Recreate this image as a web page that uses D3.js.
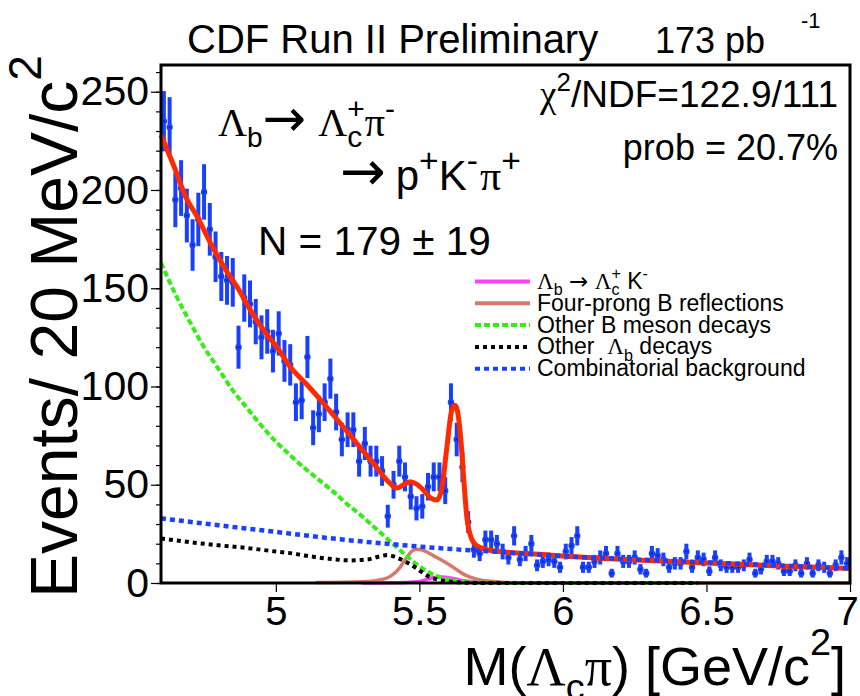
<!DOCTYPE html>
<html>
<head>
<meta charset="utf-8">
<script src="https://cdnjs.cloudflare.com/ajax/libs/d3/7.8.5/d3.min.js"></script>
<style>
body { margin: 0; background: #fff; }
svg { font-family: "Liberation Sans", Arial, sans-serif; }
</style>
</head>
<body>
<svg id="chart" width="860" height="696"></svg>
<script>
// Binned data: 20 MeV bins starting at 4.60 GeV
var binLow = 4.6, binWidth = 0.02;
var counts = [235, 232, 195, 201, 187, 172, 185, 199, 180, 166,
	156, 154, 153, 120, 145, 142, 133, 125, 128, 118,
	127, 113, 111, 92, 93, 115, 79, 86, 92, 104,
	87, 73, 78, 78, 62, 71, 62, 62, 57, 34,
	50, 62, 54, 44, 38, 39, 49, 54, 54, 47,
	92, 73, 59, 31, 17, 15, 22, 22, 20, 16,
	13, 24, 12, 15, 20, 9, 11, 12, 11, 8,
	16, 19, 24, 8, 8, 11, 13, 15, 5, 15,
	11, 11, 13, 7, 5, 15, 14, 12, 8, 10,
	10, 16, 8, 13, 12, 6, 13, 9, 8, 8,
	8, 9, 12, 5, 7, 11, 11, 10, 6, 6,
	9, 5, 10, 5, 9, 8, 5, 9, 13, 10];

// Fit curves
var totalMass = [4.60, 4.648, 4.683, 4.729, 4.776, 4.822, 4.868, 4.915, 4.961, 5.007, 5.05, 5.108, 5.166, 5.224, 5.282, 5.34, 5.398, 5.421, 5.45, 5.468, 5.49, 5.514, 5.537, 5.561, 5.578, 5.595, 5.613, 5.624, 5.632, 5.645, 5.655, 5.665, 5.682, 5.70, 5.734, 5.78, 5.84, 5.90, 5.955, 6.013, 6.13, 6.30, 6.52, 6.75, 7.0];
var totalFit = [228, 211, 197.5, 185.6, 172, 160.2, 150, 138, 128, 119.4, 110, 101, 91.4, 81.3, 71.1, 60.9, 50.7, 48.3, 50.5, 51.5, 50.3, 47.3, 43.5, 42.2, 48, 68, 88, 90.5, 88, 72, 52, 34, 22.5, 19, 17, 16, 15.3, 14.8, 14.2, 13.6, 12.6, 11.4, 10, 8.7, 7.4];

var lbKMass = [5.30, 5.45, 5.50, 5.53, 5.55, 5.58, 5.61, 5.64, 5.67, 5.70, 5.75, 6.40];
var lbK = [0, 0.3, 0.8, 2, 2.8, 3, 2.5, 1.6, 0.9, 0.4, 0.1, 0];

var reflMass = [5.14, 5.30, 5.36, 5.40, 5.43, 5.456, 5.475, 5.49, 5.51, 5.526, 5.55, 5.583, 5.62, 5.66, 5.70, 5.75, 5.80, 5.90, 7.0];
var refl = [0.2, 0.6, 1.5, 3.5, 7.5, 13, 16.3, 17.2, 16.8, 15.8, 13.8, 11.2, 7.8, 4, 2, 0.9, 0.3, 0.1, 0];

var bMesonMass = [4.60, 4.65, 4.70, 4.75, 4.80, 4.85, 4.90, 4.95, 5.00, 5.05, 5.10, 5.15, 5.20, 5.25, 5.30, 5.35, 5.40, 5.45, 5.50, 5.55, 5.60, 5.65, 5.70, 5.80, 6.47];
var bMeson = [163, 147, 133, 120, 109, 98, 89, 80, 72, 65, 58.5, 52.5, 46.5, 40, 34, 27.5, 21, 14.5, 8.5, 4.2, 1.8, 0.8, 0.3, 0, 0];

var otherLbMass = [4.60, 4.70, 4.80, 4.90, 5.00, 5.06, 5.10, 5.17, 5.26, 5.32, 5.36, 5.39, 5.42, 5.45, 5.49, 5.526, 5.57, 5.63, 5.70, 6.47];
var otherLb = [22.7, 20.8, 19.2, 17.8, 16, 15, 14, 12.6, 11.5, 12, 13.5, 14.2, 13, 11, 7.5, 3.8, 1.5, 0.4, 0, 0];

var combMass = [4.6, 4.8, 5.0, 5.2, 5.4, 5.6, 5.8, 6.0, 6.2, 6.4, 6.6, 6.8, 7.0];
var comb = [32.9, 29.4, 26, 22.6, 19.8, 17.4, 15.6, 13.6, 12.3, 11.1, 9.9, 8.6, 7.4];

var yMajor = [0, 50, 100, 150, 200, 250];
var xMajor = [5, 5.5, 6, 6.5, 7];

var legendItems = [
	{ key: 'lbk', color: '#ff40ff', dash: null },
	{ key: 'refl', color: '#d6786c', dash: null },
	{ key: 'bmes', color: '#33ee11', dash: '6,3' },
	{ key: 'olb', color: '#000000', dash: '4,4' },
	{ key: 'comb', color: '#1a40ff', dash: '5,4' }
];

var sans = '"Liberation Sans", Arial, sans-serif';
var serif = '"Liberation Serif", "Times New Roman", serif';
var arrowFont = '"DejaVu Sans", sans-serif';

var svg = d3.select('#chart');
// note: "top" is taken by window.top, so use other names
var plotL = 161, plotR = 850, plotT = 65, plotB = 583;

var x = d3.scaleLinear().domain([4.6, 7.0]).range([plotL, plotR]);
var y = d3.scaleLinear().domain([0, 263.6]).range([plotB, plotT]);

// Helper: text with sub/superscripts laid out piece by piece
function richText(parent, px, py, parts, size, anchor) {
	var g = parent.append('g');
	var cx = 0;
	parts.forEach(function(p) {
		if (p.sub !== undefined || p.sup !== undefined) {
			var w = 0;
			var ss = size * (p.small || 0.7);
			if (p.sub !== undefined) {
				var ts = g.append('text').attr('x', cx).attr('y', size * 0.28)
					.style('font-size', ss + 'px').style('font-family', sans).text(p.sub);
				w = Math.max(w, ts.node().getComputedTextLength());
			}
			if (p.sup !== undefined) {
				var tp = g.append('text').attr('x', cx).attr('y', -size * (p.supUp || 0.42))
					.style('font-size', ss + 'px').style('font-family', sans).text(p.sup);
				w = Math.max(w, tp.node().getComputedTextLength());
			}
			cx += w + (p.pad || 0);
		} else {
			var fam = p.serif ? serif : (p.arrow ? arrowFont : sans);
			var fs = size * (p.scale || 1);
			var t = g.append('text').attr('x', cx).attr('y', 0)
				.style('font-size', fs + 'px').style('font-family', fam)
				.attr('xml:space', 'preserve').text(p.t);
			cx += t.node().getComputedTextLength() + (p.pad || 0);
		}
	});
	var ox = px;
	if (anchor === 'end') ox = px - cx;
	if (anchor === 'middle') ox = px - cx / 2;
	g.attr('transform', 'translate(' + ox + ',' + py + ')');
	return g;
}

// Axes
var yMinor = svg.append('g').attr('transform', 'translate(' + plotL + ',0)')
	.call(d3.axisLeft(y).tickValues(d3.range(0, 261, 10)).tickSize(5).tickFormat(''));
yMinor.select('.domain').remove();
yMinor.selectAll('line').attr('stroke', '#000').attr('stroke-width', 1.2);

var yAxis = svg.append('g').attr('transform', 'translate(' + plotL + ',0)')
	.call(d3.axisLeft(y).tickValues(yMajor).tickSize(10).tickPadding(2));
yAxis.select('.domain').remove();
yAxis.selectAll('line').attr('stroke', '#000').attr('stroke-width', 1.2);
yAxis.selectAll('text').style('font-size', '41px').style('font-family', sans).attr('fill', '#000');

var xAxis = svg.append('g').attr('transform', 'translate(0,' + plotB + ')')
	.call(d3.axisBottom(x).tickValues(xMajor).tickSize(9).tickPadding(5).tickFormat(function(d) { return String(d); }));
xAxis.select('.domain').remove();
xAxis.selectAll('line').attr('stroke', '#000').attr('stroke-width', 1.2);
xAxis.selectAll('text').style('font-size', '40px').style('font-family', sans).attr('fill', '#000');
// last label sits against the page edge
xAxis.selectAll('text').filter(function(d) { return d === 7; }).attr('dx', -3);

// Data points with sqrt(N) error bars
var plot = svg.append('g');
var pts = counts.map(function(c, i) { return { m: binLow + binWidth * (i + 0.5), n: c }; });
var blue = '#1a40ff';

plot.selectAll('line.err').data(pts).enter().append('line')
	.attr('class', 'err')
	.attr('x1', function(d) { return x(d.m); })
	.attr('x2', function(d) { return x(d.m); })
	.attr('y1', function(d) { return y(d.n + Math.sqrt(d.n)); })
	.attr('y2', function(d) { return y(Math.max(0, d.n - Math.sqrt(d.n))); })
	.attr('stroke', blue).attr('stroke-width', 4);

plot.selectAll('circle.pt').data(pts).enter().append('circle')
	.attr('class', 'pt')
	.attr('cx', function(d) { return x(d.m); })
	.attr('cy', function(d) { return y(d.n); })
	.attr('r', 3.2).attr('fill', blue);

plot.selectAll('circle.ctr').data(pts).enter().append('circle')
	.attr('class', 'ctr')
	.attr('cx', function(d) { return x(d.m); })
	.attr('cy', function(d) { return y(d.n); })
	.attr('r', 1).attr('fill', '#0b1f8a');

// Curves
function drawCurve(masses, vals, color, width, dash) {
	var line = d3.line()
		.x(function(d) { return x(d[0]); })
		.y(function(d) { return y(d[1]); })
		.curve(d3.curveMonotoneX);
	var cpts = masses.map(function(m, i) { return [m, vals[i]]; });
	var p = svg.append('path').datum(cpts)
		.attr('d', line)
		.attr('fill', 'none')
		.attr('stroke', color)
		.attr('stroke-width', width);
	if (dash) p.attr('stroke-dasharray', dash);
	return p;
}

drawCurve(totalMass, totalFit, '#ff2a00', 5, null);
drawCurve(reflMass, refl, legendItems[1].color, 3.5, null);
drawCurve(lbKMass, lbK, legendItems[0].color, 3.5, null);
drawCurve(bMesonMass, bMeson, legendItems[2].color, 4, legendItems[2].dash);
drawCurve(otherLbMass, otherLb, legendItems[3].color, 4, legendItems[3].dash);
drawCurve(combMass, comb, legendItems[4].color, 4.5, legendItems[4].dash);

// Frame
svg.append('rect')
	.attr('x', plotL).attr('y', plotT)
	.attr('width', plotR - plotL).attr('height', plotB - plotT)
	.attr('fill', 'none').attr('stroke', '#000').attr('stroke-width', 3);

// Title
svg.append('text').attr('x', 187).attr('y', 53)
	.style('font-size', '40px').text('CDF Run II Preliminary');
svg.append('text').attr('x', 655).attr('y', 53)
	.style('font-size', '36px').text('173 pb');
svg.append('text').attr('x', 801).attr('y', 28)
	.style('font-size', '22px').text('-1');

// Annotations
richText(svg, 218, 136, [
	{ t: 'Λ', serif: true }, { sub: 'b' }, { t: '→', arrow: true, scale: 1.3, pad: 12 }, { t: 'Λ', serif: true },
	{ sub: 'c', sup: '+', small: 0.75 }, { t: 'π', serif: true }, { sup: '-', small: 0.75 }
], 40);
richText(svg, 340, 190, [
	{ t: '→', arrow: true, scale: 1.3, pad: 10 }, { t: 'p' }, { sup: '+', small: 0.8 }, { t: 'K' }, { sup: '-', small: 0.8, pad: 2 },
	{ t: 'π', serif: true }, { sup: '+', small: 0.8 }
], 42);
richText(svg, 258, 255, [{ t: 'N = 179 ± 19' }], 40.5);
richText(svg, 838, 107, [
	{ t: 'χ', serif: true }, { sup: '2' }, { t: '/NDF=122.9/111' }
], 37, 'end');
richText(svg, 838, 160, [{ t: 'prob = 20.7%' }], 36, 'end');

// Legend
var legendLabels = {
	lbk: [{ t: 'Λ', serif: true }, { sub: 'b' }, { t: ' ' }, { t: '→', arrow: true }, { t: ' ' }, { t: 'Λ', serif: true }, { sub: 'c', sup: '+' }, { t: ' K' }, { sup: '-' }],
	refl: [{ t: 'Four-prong B reflections' }],
	bmes: [{ t: 'Other B meson decays' }],
	olb: [{ t: 'Other  ' }, { t: 'Λ', serif: true }, { sub: 'b' }, { t: ' decays' }],
	comb: [{ t: 'Combinatorial background' }]
};
var legY0 = 281.5, legStep = 21.8;
legendItems.forEach(function(it, i) {
	var ly = legY0 + i * legStep;
	var l = svg.append('line')
		.attr('x1', 475).attr('x2', 530).attr('y1', ly).attr('y2', ly)
		.attr('stroke', it.color).attr('stroke-width', 4);
	if (it.dash) l.attr('stroke-dasharray', it.dash);
	richText(svg, 537, ly + 7.5, legendLabels[it.key], 23);
});

// Axis titles
var yt = svg.append('g').attr('transform', 'translate(77,598) rotate(-90)');
richText(yt, 0, 0, [{ t: 'Events/ 20 MeV/c' }, { sup: '2', supUp: 0.55 }], 66);

richText(svg, 846, 685, [
	{ t: 'M(' }, { t: 'Λ', serif: true }, { sub: 'c' }, { t: 'π', serif: true }, { t: ') [GeV/c' }, { sup: '2', supUp: 0.55 }, { t: ']' }
], 54, 'end');
</script>
</body>
</html>
